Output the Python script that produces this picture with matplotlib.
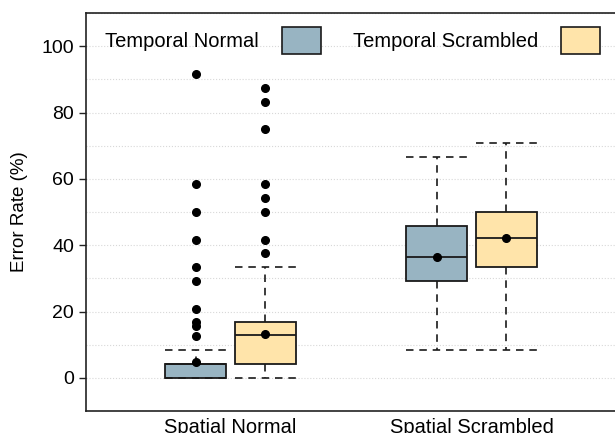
import matplotlib
matplotlib.use("Agg")
import matplotlib.pyplot as plt
from matplotlib.patches import Patch

plt.rcParams['font.family'] = ['Liberation Sans', 'DejaVu Sans']

categories = ["Spatial Normal", "Spatial Scrambled"]
series = ["Temporal Normal", "Temporal Scrambled"]
colors = ["#98B4C2", "#FFE4AA"]

# per series, per category: whislo, q1, med, q3, whishi, mean
tn_whislo = [0.0, 8.33]
tn_q1 = [0.0, 29.2]
tn_med = [4.17, 36.4]
tn_q3 = [4.17, 45.8]
tn_whishi = [8.33, 66.7]
tn_mean = [4.8, 36.4]
tn_fliers = [[91.7, 58.3, 50.0, 41.7, 33.3, 29.2, 20.8, 16.7, 15.6, 12.5], []]

ts_whislo = [0.0, 8.33]
ts_q1 = [4.17, 33.3]
ts_med = [13.0, 42.2]
ts_q3 = [16.7, 50.0]
ts_whishi = [33.3, 70.8]
ts_mean = [13.2, 42.2]
ts_fliers = [[87.5, 83.3, 75.0, 58.3, 54.2, 50.0, 41.7, 37.5], []]

yticks = [0, 20, 40, 60, 80, 100]

fig = plt.figure(figsize=(6.15, 4.33), dpi=100)
ax = fig.add_axes([86/615, 1 - 411/433, (616-86)/615, (411-13)/433])

def stats(wl, q1, med, q3, wh, mean, fl):
    return [dict(whislo=wl[i], q1=q1[i], med=med[i], q3=q3[i], whishi=wh[i],
                 mean=mean[i], fliers=fl[i]) for i in range(len(wl))]

offset = 0.145
width = 0.253
all_stats = [stats(tn_whislo, tn_q1, tn_med, tn_q3, tn_whishi, tn_mean, tn_fliers),
             stats(ts_whislo, ts_q1, ts_med, ts_q3, ts_whishi, ts_mean, ts_fliers)]
for s_i, st in enumerate(all_stats):
    pos = [i + 1 + (-offset if s_i == 0 else offset) for i in range(len(categories))]
    ax.bxp(st, positions=pos, widths=width, patch_artist=True, showmeans=True,
           showcaps=True, showfliers=True,
           boxprops=dict(facecolor=colors[s_i], edgecolor='#1a1a1a', linewidth=1.3),
           medianprops=dict(color='#1a1a1a', linewidth=1.3),
           whiskerprops=dict(color='#1a1a1a', linewidth=1.2, linestyle=(0, (4.5, 3.5))),
           capprops=dict(color='#1a1a1a', linewidth=1.2, linestyle=(0, (4.5, 3.5))),
           capwidths=width,
           meanprops=dict(marker='o', markerfacecolor='black', markeredgecolor='black', markersize=5.5),
           flierprops=dict(marker='o', markerfacecolor='black', markeredgecolor='black', markersize=5.5, linestyle='none'),
           zorder=3)

ax.set_xlim(0.4, 2.6)
ax.set_ylim(-10, 110)
ax.set_xticks([1, 2])
ax.set_xticklabels(categories, fontsize=14.5)
ax.tick_params(axis='x', length=0, pad=5)
ax.set_yticks(yticks)
ax.set_yticklabels([str(v) for v in yticks], fontsize=14)
ax.tick_params(axis='y', length=5, width=1, direction='out', color='#222222')
ax.set_yticks(range(-10, 111, 10), minor=True)
ax.tick_params(axis='y', which='minor', length=0)
ax.grid(axis='y', which='both', linestyle=':', color='#d8d8d8', linewidth=0.8, zorder=0)
ax.set_axisbelow(True)
ax.set_ylabel("Error Rate (%)", fontsize=13.5, labelpad=10)
for sp in ['left', 'bottom', 'top']:
    ax.spines[sp].set_color('#222222')
    ax.spines[sp].set_linewidth(1.2)
ax.spines['right'].set_visible(False)

handles = [Patch(facecolor=colors[i], edgecolor='#1a1a1a', linewidth=1.2) for i in range(2)]
ax.legend(handles, series, ncol=2, loc='upper left', bbox_to_anchor=(0.0135, 0.995),
          markerfirst=False, frameon=False, fontsize=14.5, handlelength=1.95,
          handleheight=1.7, columnspacing=1.55, handletextpad=1.15,
          borderpad=0.4, borderaxespad=0.2)

fig.savefig("out.png", dpi=100)
